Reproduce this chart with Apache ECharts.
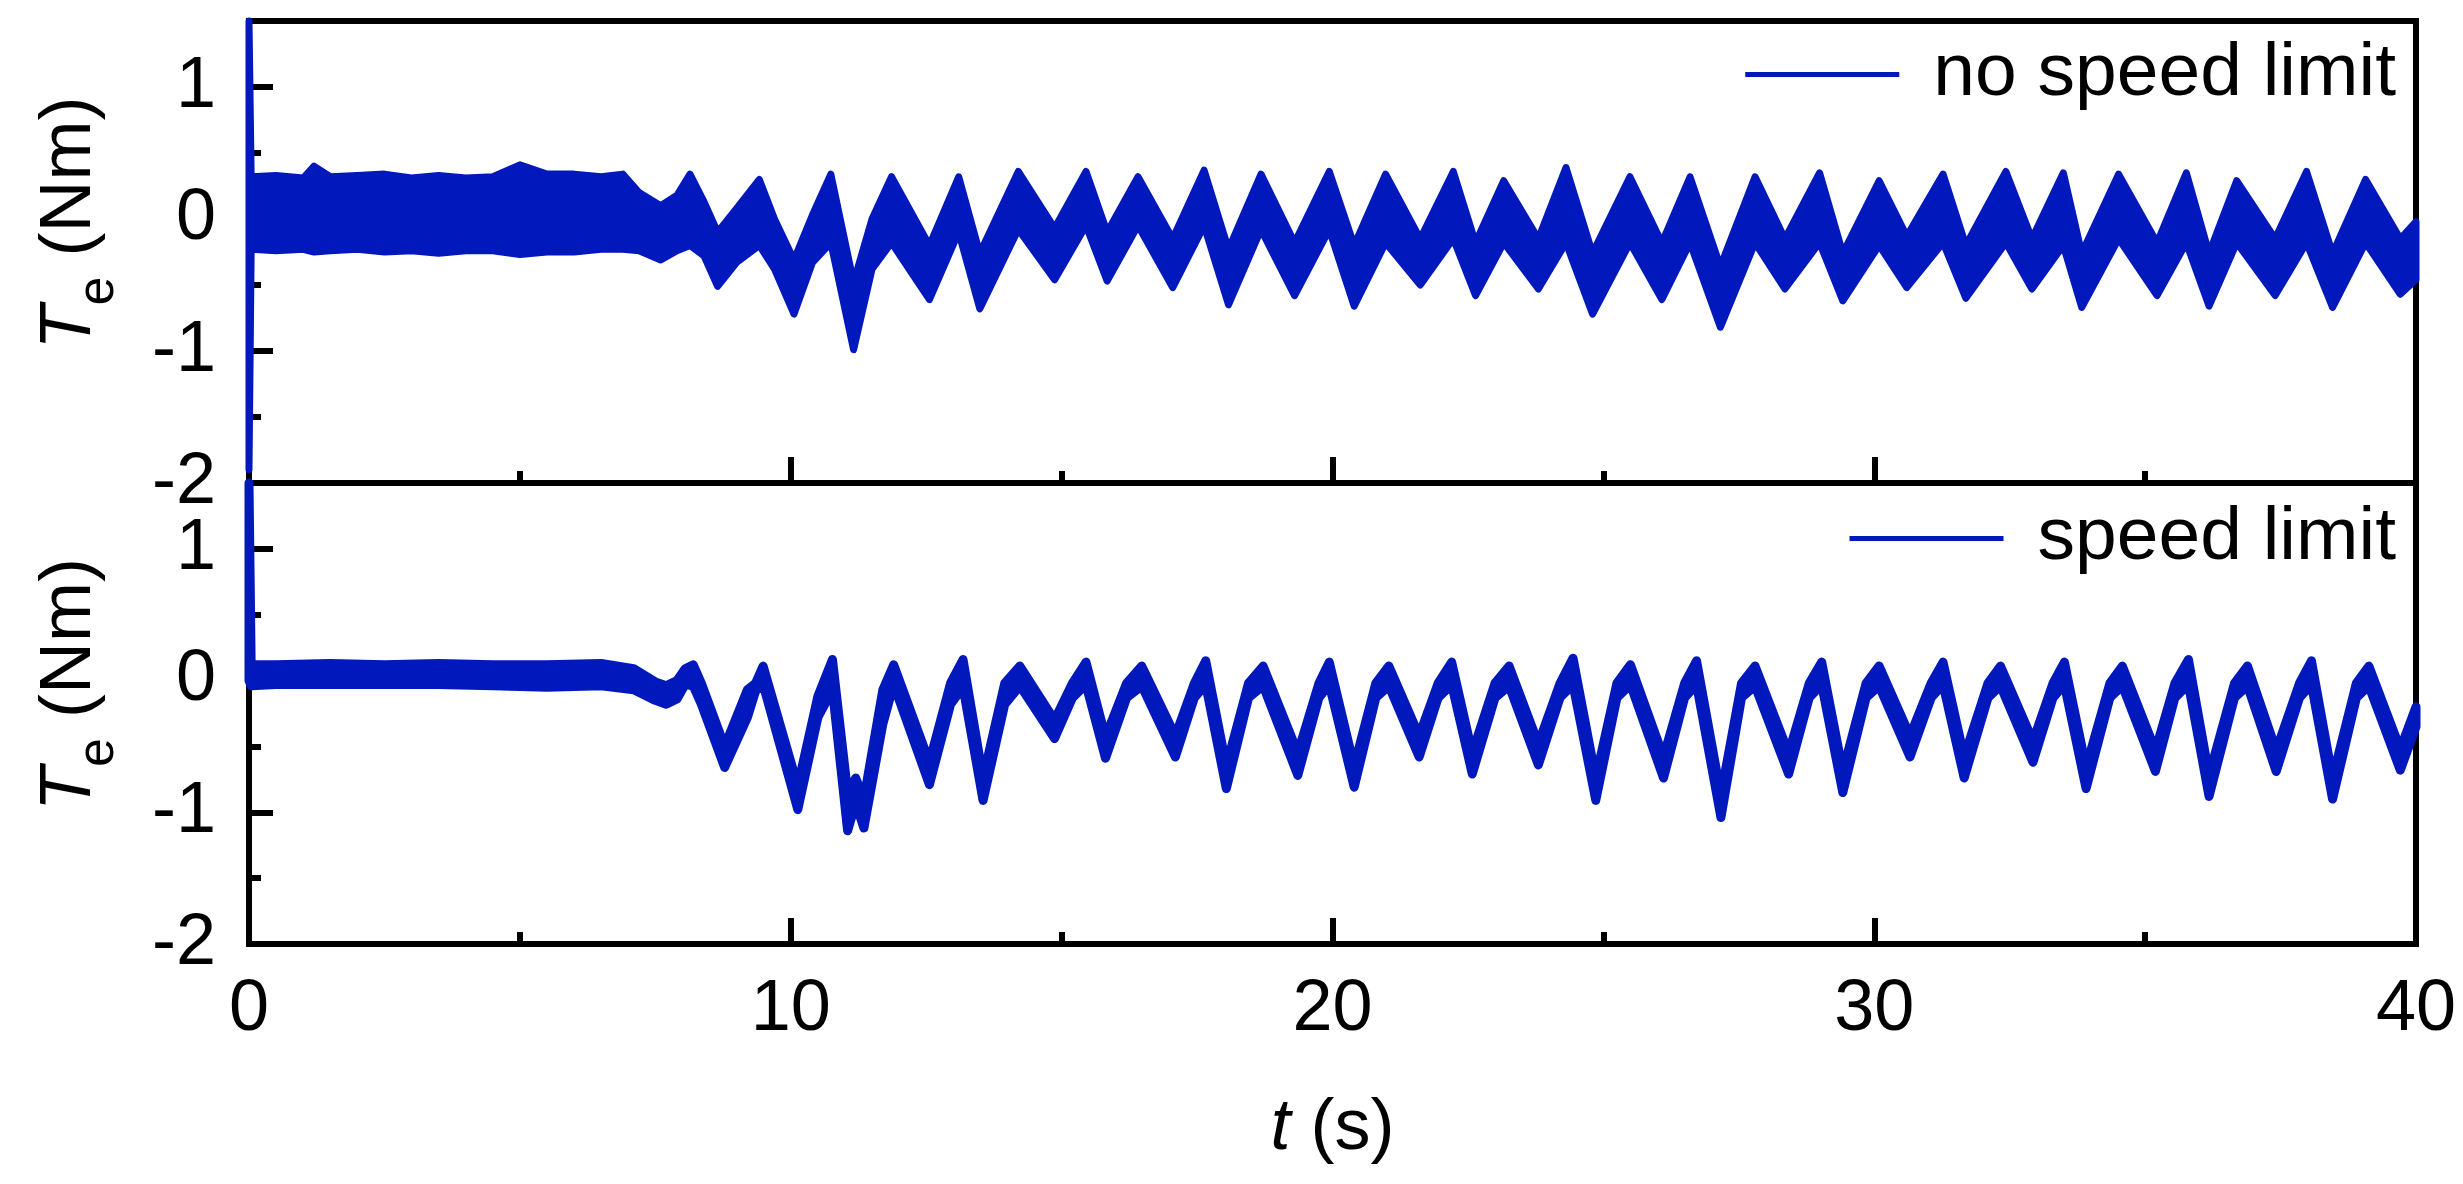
<!DOCTYPE html>
<html>
<head>
<meta charset="utf-8">
<script src="https://cdn.jsdelivr.net/npm/echarts@6/dist/echarts.min.js"></script>
<style>
  html, body { margin: 0; padding: 0; background: #fff; }
  #chart { width: 2463px; height: 1184px; }
</style>
</head>
<body>
<div id="chart"></div>
<script>
// upper / lower edge of the torque band (Nm) at time t (s)
var tTop = [0, 0.04, 0.5, 1.0, 1.2, 1.5, 2.0, 2.5, 3.0, 3.5, 4.0, 4.5, 5.0, 5.5, 6.0, 6.5, 6.9, 7.2, 7.6, 7.9,
  8.14, 8.4, 8.65, 9.0, 9.42, 9.7, 10.06, 10.4, 10.74, 11.16, 11.5, 11.86, 12.56, 13.1, 13.49, 14.2, 14.87, 15.45, 15.84, 16.41,
  17.05, 17.63, 18.08, 18.68, 19.3, 19.94, 20.4, 20.98, 21.62, 22.23, 22.64, 23.16, 23.8, 24.31, 24.8, 25.49, 26.08, 26.6, 27.16, 27.8,
  28.35, 28.99, 29.42, 30.09, 30.6, 31.27, 31.69, 32.43, 32.91, 33.49, 33.83, 34.51, 35.22, 35.76, 36.18, 36.69, 37.4, 37.98, 38.46, 39.07,
  39.71, 40.0];
var hiTop = [1.5, 0.32, 0.33, 0.31, 0.40, 0.32, 0.33, 0.34, 0.31, 0.33, 0.31, 0.32, 0.41, 0.34, 0.34, 0.32, 0.34, 0.20, 0.10, 0.18,
  0.34, 0.13, -0.10, 0.08, 0.30, 0.0, -0.31, 0.03, 0.34, -0.48, 0.0, 0.32, -0.20, 0.32, -0.26, 0.36, -0.07, 0.36, -0.10, 0.32,
  -0.15, 0.37, -0.23, 0.34, -0.18, 0.36, -0.20, 0.34, -0.15, 0.36, -0.18, 0.29, -0.15, 0.39, -0.26, 0.32, -0.18, 0.32, -0.36, 0.32,
  -0.15, 0.35, -0.26, 0.29, -0.13, 0.34, -0.20, 0.36, -0.15, 0.35, -0.26, 0.34, -0.18, 0.35, -0.26, 0.29, -0.15, 0.36, -0.26, 0.30,
  -0.15, -0.02];
var loTop = [-1.9, -0.23, -0.24, -0.23, -0.25, -0.24, -0.23, -0.25, -0.24, -0.26, -0.24, -0.24, -0.27, -0.25, -0.25, -0.23, -0.23, -0.24, -0.31, -0.24,
  -0.20, -0.28, -0.51, -0.33, -0.20, -0.38, -0.72, -0.33, -0.18, -0.99, -0.38, -0.18, -0.61, -0.10, -0.68, -0.08, -0.46, -0.05, -0.47, -0.05,
  -0.52, -0.05, -0.65, -0.08, -0.58, -0.08, -0.66, -0.18, -0.50, -0.15, -0.58, -0.18, -0.53, -0.18, -0.72, -0.18, -0.61, -0.18, -0.82, -0.18,
  -0.53, -0.18, -0.62, -0.20, -0.52, -0.18, -0.60, -0.18, -0.53, -0.20, -0.67, -0.15, -0.58, -0.18, -0.66, -0.18, -0.58, -0.18, -0.67, -0.18,
  -0.57, -0.46];

var tBot = [0, 0.04, 0.5, 1.5, 2.5, 3.5, 4.5, 5.5, 6.5, 7.1, 7.5, 7.7, 7.9, 8.05, 8.2, 8.35, 8.78, 9.2, 9.35, 9.49,
  10.13, 10.5, 10.77, 11.05, 11.2, 11.35, 11.7, 11.9, 12.56, 12.95, 13.18, 13.55, 13.95, 14.23, 14.87, 15.2, 15.45, 15.81, 16.2, 16.48,
  17.1, 17.45, 17.66, 18.04, 18.45, 18.72, 19.36, 19.75, 19.94, 20.4, 20.8, 21.04, 21.6, 21.95, 22.2, 22.58, 23.0, 23.26, 23.8, 24.2,
  24.44, 24.86, 25.25, 25.5, 26.11, 26.5, 26.72, 27.17, 27.55, 27.8, 28.42, 28.8, 29.03, 29.42, 29.85, 30.09, 30.66, 31.05, 31.27, 31.66,
  32.1, 32.33, 32.93, 33.3, 33.51, 33.91, 34.35, 34.58, 35.19, 35.55, 35.8, 36.18, 36.65, 36.89, 37.42, 37.85, 38.07, 38.46, 38.9, 39.13,
  39.71, 40.0];
var hiBot = [1.5, 0.12, 0.12, 0.13, 0.12, 0.13, 0.12, 0.12, 0.13, 0.09, -0.01, -0.04, 0.0, 0.09, 0.12, -0.02, -0.50, -0.07, -0.02, 0.11,
  -0.80, -0.12, 0.16, -0.85, -0.74, -0.90, -0.07, 0.12, -0.62, -0.02, 0.16, -0.74, -0.02, 0.11, -0.30, -0.02, 0.14, -0.43, -0.02, 0.11,
  -0.42, -0.02, 0.15, -0.65, -0.02, 0.11, -0.55, -0.02, 0.14, -0.65, -0.02, 0.11, -0.42, -0.02, 0.14, -0.55, -0.02, 0.11, -0.48, -0.02,
  0.17, -0.74, -0.02, 0.12, -0.58, -0.02, 0.15, -0.87, -0.02, 0.11, -0.55, -0.02, 0.14, -0.69, -0.02, 0.11, -0.42, -0.02, 0.14, -0.58,
  -0.02, 0.11, -0.46, -0.02, 0.14, -0.66, -0.02, 0.11, -0.53, -0.02, 0.16, -0.72, -0.02, 0.11, -0.53, -0.02, 0.15, -0.74, -0.02, 0.11,
  -0.52, -0.20];
var loBot = [0.0, -0.04, -0.03, -0.03, -0.03, -0.03, -0.04, -0.05, -0.04, -0.07, -0.15, -0.18, -0.14, -0.03, -0.04, -0.18, -0.66, -0.28, -0.08, -0.03,
  -0.98, -0.28, -0.07, -1.14, -0.93, -1.12, -0.33, -0.03, -0.79, -0.18, -0.05, -0.91, -0.18, -0.04, -0.44, -0.13, -0.03, -0.59, -0.13, -0.04,
  -0.58, -0.13, -0.03, -0.82, -0.13, -0.04, -0.72, -0.13, -0.03, -0.81, -0.13, -0.04, -0.58, -0.13, -0.03, -0.71, -0.13, -0.04, -0.64, -0.13,
  -0.03, -0.91, -0.13, -0.03, -0.74, -0.13, -0.03, -1.04, -0.13, -0.04, -0.71, -0.13, -0.03, -0.85, -0.13, -0.04, -0.58, -0.13, -0.03, -0.74,
  -0.13, -0.04, -0.62, -0.13, -0.03, -0.82, -0.13, -0.04, -0.69, -0.13, -0.03, -0.88, -0.13, -0.04, -0.69, -0.13, -0.03, -0.90, -0.13, -0.04,
  -0.68, -0.35];

var yTicks = [-2, -1, 0, 1];
var xTicks = [0, 10, 20, 30, 40];
var names = ['no speed limit', 'speed limit'];

var BLUE = '#0018bc';
var FONT = '"Liberation Sans", Arial, sans-serif';

// filled band between the upper and lower edge, edges stroked so thin slopes keep some width
function band(name, t, hi, lo, gi, edge) {
  return {
    type: 'custom', name: name, coordinateSystem: 'cartesian2d',
    xAxisIndex: gi, yAxisIndex: gi * 2, silent: true,
    data: [[t[0], hi[0]]],
    itemStyle: { color: BLUE },
    renderItem: function (params, api) {
      var up = t.map(function (x, i) { return api.coord([x, hi[i]]); });
      var dn = t.map(function (x, i) { return api.coord([x, lo[i]]); });
      return {
        type: 'polygon',
        shape: { points: up.concat(dn.reverse()) },
        style: { fill: BLUE, stroke: BLUE, lineWidth: edge, lineJoin: 'round' }
      };
    }
  };
}

var grids = [
  { left: 249, top: 21, width: 2167, height: 462 },
  { left: 249, top: 483, width: 2167, height: 461 }
];

var xAxes = grids.map(function (g, i) {
  return {
    type: 'value', gridIndex: i, min: 0, max: 40, interval: 10,
    axisLine: { show: false, onZero: false },
    axisTick: { inside: true, length: 26, lineStyle: { color: '#000', width: 6 } },
    minorTick: { show: true, splitNumber: 2, length: 12, lineStyle: { color: '#000', width: 6 } },
    splitLine: { show: false }, minorSplitLine: { show: false },
    axisLabel: i === 1 ? {
      show: true, fontSize: 72, fontFamily: FONT, color: '#000', margin: 30,
      formatter: function (v) { return xTicks.indexOf(v) >= 0 ? String(v) : ''; }
    } : { show: false },
    name: i === 1 ? '{i|t} (s)' : '',
    nameLocation: 'middle', nameGap: 149,
    nameTextStyle: {
      fontSize: 72, fontFamily: FONT, color: '#000', lineHeight: 72,
      rich: { i: { fontStyle: 'italic', fontSize: 72, fontFamily: FONT, lineHeight: 72 } }
    }
  };
});

var yAxes = [];
grids.forEach(function (g, i) {
  yAxes.push({
    type: 'value', gridIndex: i, position: 'left', min: -2, max: 1.5, interval: 1,
    axisLine: { show: false, onZero: false },
    axisTick: { inside: true, length: 24, lineStyle: { color: '#000', width: 6 } },
    splitLine: { show: false },
    axisLabel: {
      fontSize: 72, fontFamily: FONT, color: '#000', margin: 33, showMinLabel: true,
      formatter: function (v) { return yTicks.indexOf(v) >= 0 ? String(v) : ''; }
    },
    name: '{i|T}{s|e}{n| (Nm)}',
    nameLocation: 'middle', nameGap: 131, nameRotate: 90,
    nameTextStyle: {
      color: '#000', fontFamily: FONT, fontSize: 72, padding: [0, 0, 0, 58],
      rich: {
        i: { fontSize: 72, fontStyle: 'italic', lineHeight: 72, padding: [0, 0, 24, 0], fontFamily: FONT, color: '#000' },
        s: { fontSize: 52, lineHeight: 52, padding: [39, 0, 5, 0], fontFamily: FONT, color: '#000' },
        n: { fontSize: 72, lineHeight: 72, padding: [0, 0, 24, 0], fontFamily: FONT, color: '#000' }
      }
    }
  });
  // minor ticks every 0.5
  yAxes.push({
    type: 'value', gridIndex: i, position: 'left', min: -2, max: 1.5, interval: 0.5,
    axisLine: { show: false, onZero: false },
    axisTick: { inside: true, length: 12, lineStyle: { color: '#000', width: 6 } },
    splitLine: { show: false },
    axisLabel: { show: false }
  });
});

function legendFor(name, top) {
  return {
    data: [{ name: name, icon: 'rect', itemStyle: { color: BLUE } }],
    right: 67, top: top, padding: 0, selectedMode: false,
    itemWidth: 154, itemHeight: 5,
    textStyle: { fontSize: 75, fontFamily: FONT, color: '#000', padding: [0, 0, 0, 29] }
  };
}

var chart = echarts.init(document.getElementById('chart'));
chart.setOption({
  animation: false,
  backgroundColor: '#fff',
  grid: grids.map(function (g) {
    return Object.assign({ show: true, borderColor: '#000', borderWidth: 6, backgroundColor: 'transparent' }, g);
  }),
  xAxis: xAxes,
  yAxis: yAxes,
  legend: [legendFor(names[0], 37), legendFor(names[1], 501)],
  series: [band(names[0], tTop, hiTop, loTop, 0, 7), band(names[1], tBot, hiBot, loBot, 1, 9)]
});
</script>
</body>
</html>
